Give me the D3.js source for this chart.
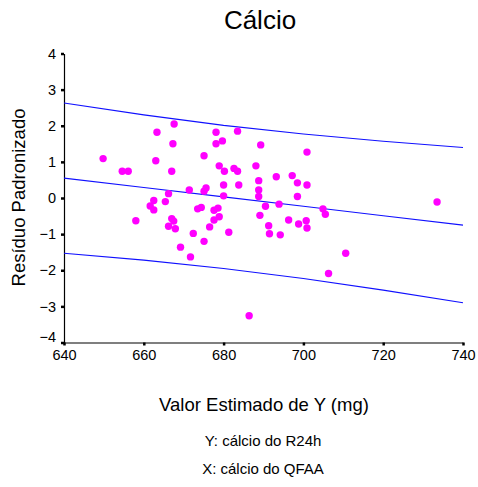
<!DOCTYPE html>
<html>
<head>
<meta charset="utf-8">
<script src="https://cdn.jsdelivr.net/npm/d3@7"></script>
<style>
  body { margin: 0; background: #fff; }
  text { font-family: "Liberation Sans", Arial, sans-serif; fill: #000; }
</style>
</head>
<body>
<div class="chart"></div>
<script>
// predicted value (mg) and standardized residual for each subject
const predicted = [
  649.8, 654.6, 656.1, 658.0, 661.6, 662.5, 662.5, 663.0, 663.3, 665.4,
  666.2, 666.2, 667.0, 667.3, 667.6, 667.0, 667.5, 667.9, 669.2, 671.4,
  671.7, 672.4, 673.5, 674.4, 675.1, 675.1, 675.6, 675.1, 676.5, 677.6,
  678.6, 677.6, 678.9, 678.1, 678.1, 679.7, 678.9, 680.2, 680.0, 680.0,
  681.3, 682.6, 683.5, 683.5, 683.8, 686.4, 688.1, 688.8, 688.8, 688.8,
  689.1, 689.3, 690.5, 691.3, 691.5, 693.2, 693.9, 694.2, 696.3, 697.2,
  698.5, 698.5, 698.8, 700.7, 700.9, 700.9, 700.9, 704.9, 705.5, 706.3,
  710.6, 733.5
];
const residual = [
  1.09, 0.74, 0.74, -0.63, -0.22, -0.07, -0.33, 1.03, 1.82, -0.10,
  0.12, -0.78, 0.74, 1.50, 2.05, -0.57, -0.64, -0.85, -1.36, 0.22,
  -1.63, -0.98, -0.30, -0.26, 1.17, 0.19, 0.28, -1.20, -0.80, -0.34,
  -0.28, -0.61, -0.52, 1.82, 1.50, 1.58, 0.89, 0.74, 0.36, 0.06,
  -0.95, 0.82, 0.74, 1.85, 0.36, -3.26, 0.89, 0.48, 0.22, 0.04,
  -0.48, 1.47, -0.23, -0.77, -0.99, 0.59, -0.17, -1.02, -0.61, 0.62,
  0.42, 0.04, -0.72, -0.63, -0.83, 0.36, 1.27, -0.30, -0.45, -2.09,
  -1.53, -0.11
];

// fitted line and 95% band
const bandX = [640, 660, 680, 700, 720, 740];
const fitY = [0.55, 0.29, 0.03, -0.23, -0.49, -0.75];
const upperY = [2.63, 2.30, 2.01, 1.77, 1.57, 1.40];
const lowerY = [-1.53, -1.72, -1.95, -2.23, -2.55, -2.90];

const xTicks = [640, 660, 680, 700, 720, 740];
const yTicks = [-4, -3, -2, -1, 0, 1, 2, 3, 4];

const title = 'Cálcio';
const xTitle = 'Valor Estimado de Y (mg)';
const yTitle = 'Resíduo Padronizado';
const notes = ['Y: cálcio do R24h', 'X: cálcio do QFAA'];

const W = 478;
const H = 487;
const margin = { top: 53.5, right: 15, bottom: 144.5, left: 64 };

const svg = d3.select('.chart')
  .append('svg')
  .attr('width', W)
  .attr('height', H);

const x = d3.scaleLinear()
  .domain([640, 740])
  .range([margin.left, W - margin.right]);
const y = d3.scaleLinear()
  .domain([-4, 4])
  .range([H - margin.bottom, margin.top]);

const xAxis = svg.append('g')
  .attr('transform', `translate(0,${H - margin.bottom})`)
  .call(d3.axisBottom(x).tickValues(xTicks).tickSize(3).tickPadding(4.5).tickSizeOuter(0));
const yAxis = svg.append('g')
  .attr('transform', `translate(${margin.left},0)`)
  .call(d3.axisLeft(y).tickValues(yTicks).tickSize(3).tickPadding(5).tickSizeOuter(0));

[xAxis, yAxis].forEach((g) => {
  g.select('.domain').attr('stroke', '#000').attr('stroke-width', 1.2);
  g.selectAll('.tick line').attr('stroke', '#000').attr('stroke-width', 2.5);
  g.selectAll('.tick text').style('font-size', '14.5px').attr('fill', '#000');
});
// bottom label sits a bit higher in the original
yAxis.selectAll('.tick text').filter(d => d === -4).attr('dy', '-0.05em');

const line = (vals) => d3.line()
  .x((d, i) => x(bandX[i]))
  .y(d => y(d))(vals);

[upperY, fitY, lowerY].forEach((vals) => {
  svg.append('path')
    .attr('d', line(vals))
    .attr('fill', 'none')
    .attr('stroke', '#1010ff')
    .attr('stroke-width', 1.1);
});

svg.append('g')
  .selectAll('circle')
  .data(predicted)
  .join('circle')
  .attr('cx', d => x(d))
  .attr('cy', (d, i) => y(residual[i]))
  .attr('r', 3.7)
  .attr('fill', '#ff00ff');

svg.append('text')
  .attr('x', 260)
  .attr('y', 29)
  .attr('text-anchor', 'middle')
  .style('font-size', '26px')
  .text(title);

svg.append('text')
  .attr('x', 264)
  .attr('y', 411)
  .attr('text-anchor', 'middle')
  .style('font-size', '18.5px')
  .text(xTitle);

svg.append('text')
  .attr('transform', 'translate(24.5,197.5) rotate(-90)')
  .attr('text-anchor', 'middle')
  .style('font-size', '18.5px')
  .text(yTitle);

notes.forEach((t, i) => {
  svg.append('text')
    .attr('x', 263)
    .attr('y', 445.5 + i * 28.5)
    .attr('text-anchor', 'middle')
    .style('font-size', '15px')
    .text(t);
});
</script>
</body>
</html>
